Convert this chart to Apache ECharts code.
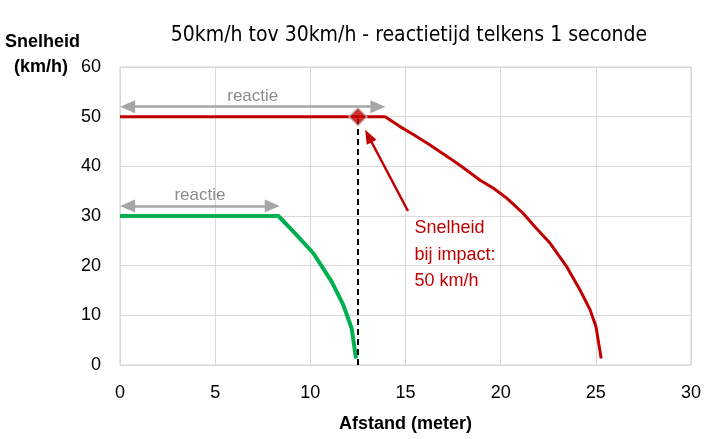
<!DOCTYPE html>
<html><head><meta charset="utf-8">
<script src="https://cdn.jsdelivr.net/npm/echarts@6/dist/echarts.min.js"></script>
<style>html,body{margin:0;padding:0;background:#fff}#c{width:711px;height:439px}</style>
</head><body><div id="c"></div>
<script>
const titleText = '50km/h tov 30km/h - reactietijd telkens 1 seconde';
const xTicks = [0, 5, 10, 15, 20, 25, 30];
const yTicks = [0, 10, 20, 30, 40, 50, 60];
const red_x = [0, 13.93, 14.71, 15.41, 16.29, 17.34, 18.04, 18.92, 19.62, 20.32, 21.19, 21.81, 22.6, 23.47, 24.17, 24.7, 25.01, 25.28];
const red_v = [50, 50, 48.0, 46.4, 44.3, 41.6, 39.7, 37.2, 35.6, 33.6, 30.5, 27.8, 24.5, 19.8, 15.1, 11.1, 7.7, 1.3];
const green_x = [0, 8.32, 9.2, 10.16, 11.12, 11.73, 12.17, 12.4];
const green_v = [30, 30, 26.5, 22.5, 16.8, 12.1, 7.4, 1.3];
const impact = [12.5, 50];
const reactRed = [0.4, 13.55, 52];
const reactGreen = [0.4, 8.0, 32];
const annoArrow = [[15.13, 31.0], [13.05, 46.1]];
const annoText = 'Snelheid\nbij impact:\n50 km/h';
const annoPos = [15.45, 27.6];

const FONT = 'Liberation Sans';
const chart = echarts.init(document.getElementById('c'), null, {renderer: 'canvas'});
const zip = (a, b) => a.map((v, i) => [v, b[i]]);
const gray = '#a6a6a6';
const arrowSym = {symbol: 'triangle', symbolSize: [13, 15]};
chart.setOption({
  animation: false,
  textStyle: {fontFamily: FONT},
  title: {text: titleText, left: 404, top: 20, textAlign: 'center',
    textStyle: {fontFamily: '"DejaVu Sans Condensed", "Liberation Sans", sans-serif', fontSize: 21, fontWeight: 'normal', color: '#000'}},
  graphic: [
    {type: 'text', left: 5, top: 33, style: {text: 'Snelheid', font: 'bold 18px ' + FONT, fill: '#000'}},
    {type: 'text', left: 14, top: 58, style: {text: '(km/h)', font: 'bold 18px ' + FONT, fill: '#000'}}
  ],
  grid: {left: 120, right: 20, top: 67, bottom: 74, show: true, borderColor: '#d0d0d0', borderWidth: 1},
  xAxis: {type: 'value', min: xTicks[0], max: xTicks[xTicks.length - 1], interval: 5,
    name: 'Afstand (meter)', nameLocation: 'middle', nameGap: 50,
    nameTextStyle: {fontFamily: FONT, fontWeight: 'bold', fontSize: 18, color: '#000'},
    axisLine: {show: false}, axisTick: {show: false},
    axisLabel: {fontSize: 18, color: '#000', margin: 19},
    splitLine: {lineStyle: {color: '#d9d9d9'}}},
  yAxis: {type: 'value', min: yTicks[0], max: yTicks[yTicks.length - 1], interval: 10,
    axisLine: {show: false}, axisTick: {show: false},
    axisLabel: {fontSize: 18, color: '#000', margin: 19},
    splitLine: {lineStyle: {color: '#d9d9d9'}}},
  series: [
    {type: 'line', name: '50', data: zip(red_x, red_v), symbol: 'none', smooth: false,
      lineStyle: {color: '#c00000', width: 3}, z: 3,
      markLine: {silent: true, animation: false, data: [
        [Object.assign({coord: [reactRed[0], reactRed[2]],
          lineStyle: {color: gray, width: 2.5, type: 'solid'},
          label: {show: true, position: 'middle', formatter: 'reactie', color: '#8c8c8c', fontSize: 17, distance: 2}}, arrowSym),
         Object.assign({coord: [reactRed[1], reactRed[2]]}, arrowSym)],
        [Object.assign({coord: [reactGreen[0], reactGreen[2]],
          lineStyle: {color: gray, width: 2.5, type: 'solid'},
          label: {show: true, position: 'middle', formatter: 'reactie', color: '#8c8c8c', fontSize: 17, distance: 2}}, arrowSym),
         Object.assign({coord: [reactGreen[1], reactGreen[2]]}, arrowSym)],
        [{coord: [impact[0], 0], symbol: 'none', lineStyle: {color: '#000', width: 2, type: [6, 4]}, label: {show: false}},
         {coord: [impact[0], impact[1]], symbol: 'none'}],
        [{coord: annoArrow[0], symbol: 'none', lineStyle: {color: '#c00000', width: 2.5, type: 'solid'}, label: {show: false}},
         {coord: annoArrow[1], symbol: 'triangle', symbolSize: [11, 14]}]
      ]},
      markPoint: {silent: true, data: [
        {coord: annoPos, symbol: 'rect', symbolSize: 1, itemStyle: {color: 'rgba(0,0,0,0)'},
          label: {show: true, position: 'right', distance: 0, align: 'left', verticalAlign: 'top',
            formatter: annoText, color: '#c00000', fontSize: 18, lineHeight: 26.5, padding: [-13, 0, 0, 0]}}
      ]}
    },
    {type: 'line', name: '30', data: zip(green_x, green_v), symbol: 'none', smooth: false,
      lineStyle: {color: '#00b050', width: 4}, z: 3},
    {type: 'scatter', data: [impact], symbol: 'diamond', symbolSize: 18, z: 10, zlevel: 1,
      itemStyle: {color: '#c00000', borderColor: '#bfbfbf', borderWidth: 1.5}}
  ]
});
</script></body></html>
